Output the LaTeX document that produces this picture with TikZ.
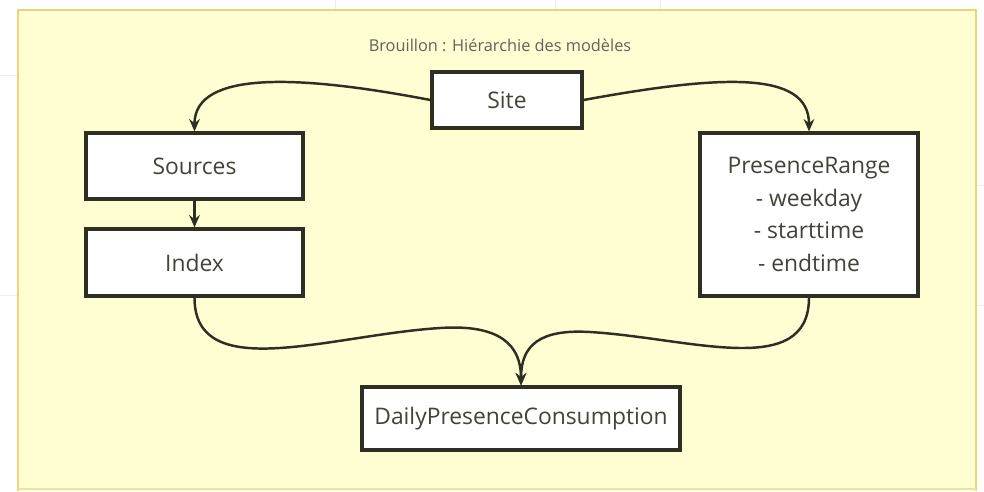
\documentclass[tikz,border=0pt]{standalone}
\usepackage{fontspec}
\setmainfont{Open Sans}
\usetikzlibrary{arrows.meta}
\definecolor{paper}{HTML}{FFFDD2}
\definecolor{paperedge}{HTML}{EAD47A}
\definecolor{ink}{HTML}{2E2E22}
\definecolor{gridc}{HTML}{EDEDED}
\tikzset{
  box/.style={draw=ink, line width=1.8pt, fill=white, inner sep=2pt, align=center, font=\fontsize{13}{18.5}\selectfont, text=ink!90},
  link/.style={draw=ink, line width=1.4pt, -{Stealth[length=7pt,width=6pt]}},
}
\begin{document}
\begin{tikzpicture}[x=0.02cm,y=-0.02cm]
\useasboundingbox (0,0) rectangle (984,491);
\fill[white] (0,0) rectangle (984,491);
% faint grid outside the sheet
\foreach \gx in {335,555,660} \draw[gridc, line width=0.4pt] (\gx,0) -- (\gx,10);
\draw[gridc, line width=0.4pt] (0,75) -- (18,75);
\draw[gridc, line width=0.4pt] (0,295) -- (18,295);
\draw[gridc, line width=0.4pt] (976,185) -- (984,185);
\draw[gridc, line width=0.4pt] (976,305) -- (984,305);
% sheet
\fill[paper] (18,10) rectangle (976,491);
\draw[paperedge, line width=1.6pt] (18,491) -- (18,10) -- (976,10) -- (976,491);
\draw[paperedge!70, line width=1pt] (18,489) -- (976,489);
% title
\node (title) at (500,45) {\fontsize{9.3}{11}\selectfont\color{ink!75}Brouillon : Hiérarchie des modèles};
% nodes
\node[box, minimum width=150*0.02cm, minimum height=56*0.02cm] (site) at (507,100) {Site};
\node[box, minimum width=217*0.02cm, minimum height=66*0.02cm] (sources) at (194.5,166) {Sources};
\node[box, minimum width=217*0.02cm, minimum height=67*0.02cm] (index) at (194.5,262.5) {Index};
\node[box, minimum width=218*0.02cm, minimum height=163*0.02cm] (range) at (809,214.5) {PresenceRange\\- weekday\\- starttime\\- endtime};
\node[box, minimum width=318*0.02cm, minimum height=63*0.02cm] (daily) at (521,418.5) {DailyPresenceConsumption};
% connectors
\draw[link] (site.west) .. controls (300,75) and (194.5,70) .. (sources.north);
\draw[link] (site.east) .. controls (720,75) and (809,70) .. (range.north);
\draw[link] (sources.south) -- (index.north);
\draw[link] (index.south) .. controls (194.5,385) and (330,335) .. (440,328) .. controls (500,324) and (521,345) .. (daily.north);
\draw[link] (range.south) .. controls (809,380) and (690,338) .. (590,332) .. controls (540,329) and (521,345) .. (daily.north);
\end{tikzpicture}
\end{document}
